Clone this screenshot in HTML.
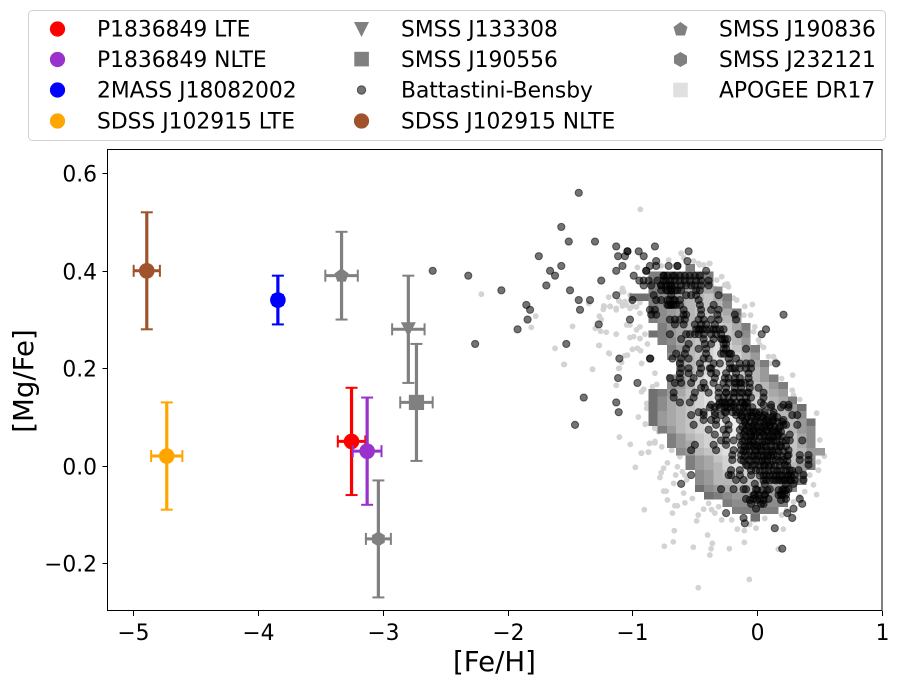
<!DOCTYPE html>
<html lang="en">
<head>
<meta charset="utf-8">
<title>[Mg/Fe] vs [Fe/H]</title>
<style>
html,body{margin:0;padding:0;background:#fff;}
svg{display:block;font-family:"DejaVu Sans",sans-serif;}
</style>
</head>
<body>
<svg id="chart" width="899" height="687" viewBox="0 0 899 687" xmlns="http://www.w3.org/2000/svg">
  <g font-size="21.8" fill="#000">
    <rect x="28.5" y="10.5" width="857" height="130" rx="4" fill="#fff" stroke="#d2d2d2"/>
    <g><circle cx="57.5" cy="29" r="7.6" fill="#ff0000"/><text x="97" y="36.5">P1836849 LTE</text></g>
    <g><circle cx="57.5" cy="59.5" r="7.6" fill="#9932cc"/><text x="97" y="67">P1836849 NLTE</text></g>
    <g><circle cx="57.5" cy="90" r="7.6" fill="#0000ff"/><text x="97" y="97.5">2MASS J18082002</text></g>
    <g><circle cx="57.5" cy="121" r="7.6" fill="#ffa500"/><text x="97" y="128.5">SDSS J102915 LTE</text></g>
    <g><polygon points="354,22 369,22 361.5,37" fill="#808080"/><text x="401" y="36.5">SMSS J133308</text></g>
    <g><rect x="354.3" y="51.8" width="14.6" height="14.6" fill="#808080"/><text x="401" y="67">SMSS J190556</text></g>
    <g><circle cx="361.5" cy="90" r="4.2" fill="#000" fill-opacity=".55" stroke="#000" stroke-opacity=".55"/><text x="401" y="97.5">Battastini-Bensby</text></g>
    <g><circle cx="361.5" cy="121" r="7.6" fill="#a0522d"/><text x="401" y="128.5">SDSS J102915 NLTE</text></g>
    <g><polygon points="680.5,22 687.5,27 685,35.5 676,35.5 673.5,27" fill="#808080"/><text x="719" y="36.5">SMSS J190836</text></g>
    <g><polygon points="680.5,52 687,55.7 687,63.3 680.5,67 674,63.3 674,55.7" fill="#808080"/><text x="719" y="67">SMSS J232121</text></g>
    <g><rect x="673.2" y="82.7" width="14.6" height="14.6" fill="#e0e0e0"/><text x="719" y="97.5">APOGEE DR17</text></g>
  </g>
  <g id="apogee-points"></g>
  <g id="heatmap" shape-rendering="crispEdges"></g>
  <g id="bensby-points"></g>
  <g id="stars"></g>
  <rect x="107.5" y="149.5" width="774.5" height="461" fill="none" stroke="#000" stroke-width="1"/>
  <g id="x-axis"></g>
  <g id="y-axis"></g>
  <text x="494.5" y="671" text-anchor="middle" font-size="27.6">[Fe/H]</text>
  <text transform="translate(33,381) rotate(-90)" text-anchor="middle" font-size="27.6">[Mg/Fe]</text>
</svg>
<script>
const xTicks = [-5,-4,-3,-2,-1,0,1];
const yTicks = [-0.2,0,0.2,0.4,0.6];
const yTickLabels = ["\u22120.2","0.0","0.2","0.4","0.6"];
const xTickLabels = ["\u22125","\u22124","\u22123","\u22122","\u22121","0","1"];

const starNames = ["sdss-lte","sdss-nlte","2mass","p1836849-lte","p1836849-nlte","smss-j133308","smss-j190556","smss-j190836","smss-j232121"];
const starFe = [-4.73,-4.89,-3.84,-3.25,-3.125,-2.795,-2.73,-3.33,-3.035];
const starMg = [0.02,0.40,0.34,0.05,0.03,0.28,0.13,0.39,-0.15];
const starFeErr = [0.125,0.105,0.04,0.11,0.115,0.13,0.13,0.13,0.10];
const starMgErr = [0.11,0.12,0.05,0.11,0.11,0.11,0.12,0.09,0.12];
const starColors = ["#ffa500","#a0522d","#0000ff","#ff0000","#9932cc","#808080","#808080","#808080","#808080"];
const starShapes = ["circle","circle","circle","circle","circle","triangle","square","pentagon","hexagon"];

const heatBinFe = 0.0745;
const heatBinMg = 0.01508;
const heatOriginFe = -0.873;
const heatTopMg = 0.4135;
const heatStart = [4,0,0,0,-2,0,0,0,1,0,1,2,2,3,3,2,2,0,0,0,0,0,1,2,2,3,4,4,5,5,5,6,8,9,11];
const heatLevels = [
[1],
[1,1,1,1,2,1,1],
[1,2,2,3,3,3,2],
[1,2,3,4,4,5,4,2],
[0,0,1,2,3,4,5,5,6,4,1],
[1,2,3,4,5,6,6,5,2],
[1,2,3,4,5,6,6,6,4,1],
[1,2,3,4,5,6,7,6,5,3],
[1,3,4,5,6,7,7,6,4,1],
[0,1,3,4,5,6,7,7,6,5,2],
[1,2,4,5,6,7,8,7,5,3],
[1,3,5,6,7,8,7,6,4,1],
[2,3,5,6,7,8,8,7,5,3],
[3,5,6,7,8,8,7,6,4,1],
[3,5,6,7,8,8,8,6,5,3],
[2,3,5,7,8,9,8,7,6,5,3,1],
[2,3,5,7,8,9,9,8,7,6,5,3,1],
[0,1,3,4,6,7,8,9,9,8,7,6,5,4,3],
[0,2,4,5,6,7,8,9,9,9,8,7,6,5,4,1],
[0,2,4,5,6,7,8,9,9,9,8,7,6,6,5,3,0],
[0,3,4,5,6,7,8,9,9,9,8,8,7,6,5,4,2],
[0,3,4,5,6,7,8,9,9,9,9,8,7,6,6,5,3,0],
[1,3,5,6,7,8,9,9,9,9,8,8,7,6,5,3,2],
[1,3,5,6,7,8,9,9,9,8,8,7,6,6,4,2],
[1,3,4,6,7,8,9,9,9,9,8,7,7,6,4,2],
[2,3,5,6,7,8,9,9,9,8,8,7,6,5,3,3],
[1,3,4,6,7,8,9,9,8,8,7,6,4,2],
[1,3,4,5,7,8,8,8,8,7,6,5,3,1],
[2,3,5,6,7,7,7,7,6,5,4,2],
[2,3,5,5,6,6,6,6,5,4,3,1],
[0,2,3,4,5,5,5,5,4,3,2],
[0,1,2,3,3,3,3,3,2],
[1,2,2,2,2,2,1],
[1,1,1,1,1],
[0]
];

const apogeeFe = [-2.21,-1.775,-1.81,-1.48,-1.62,-1.545,-1.32,-1.35,-1.19,-1.225,-1.177,-1.13,-1.233,-1.265,-1.25,-1.297,-1.255,-1.21,-1.13,-1.265,-1.185,-1.11,-0.937,
-1.55,-1.32,-1.27,-1.19,-1.13,-1.02,-0.99,-0.94,-0.88,-1.0,-0.96,-0.935,-1.04,-1.06,-1.087,-1.105,-1.13,-0.927,-0.82,-0.806,-0.84,-0.91,-0.927,-0.886,-0.886,-0.953,-0.897,-0.82,-1.105,-1.017,-0.865,-0.82,-0.93,-0.873,-0.977,-1.1,-1.047,-0.967,-0.94,-1.02,-1.087,-1.047,-1.02,-0.94,-0.967,-0.9,
-0.61,-0.59,-0.71,-0.51,-0.38,-0.47,-0.43,-0.77,-0.96,-0.325,-0.26,-0.23,-0.34,-1.08,-1.07,-1.02,-1.0,-1.11,-1.06,-1.08,-1.18,-1.23,-1.0,-0.94,-0.94,-1.13,
-0.46,-0.385,-0.285,-0.26,-0.24,-0.19,-0.165,-0.04,-0.1,-0.107,-0.053,-0.02,-0.03,0.01,0.02,0.05,0.09,0.13,0.14,0.17,0.1,0.283,0.195,0.28,0.29,0.34,0.25,
0.475,0.50,0.537,0.49,0.49,0.42,0.45,0.475,0.38,0.34,0.29,0.195,0.208,0.235,0.06,-0.02,-0.06,-0.01,-0.16,-0.104,-0.205,-0.285,-0.34,-0.31,-0.366,-0.43,-0.39,-0.486,-0.473,-0.68,-0.905,-0.66,-0.64,-0.58,-0.52,-0.72,-0.59,-0.75,-0.73,-0.67,-0.654,-0.78,-0.77,-0.75,-0.72,-0.64,-0.6,-0.58,-0.565,-0.927,-0.87,-0.765,-0.86,-0.82,-0.897,-0.82,-0.79,-0.62,-0.686,-0.665,-0.398,-0.745,-0.673,-0.513,-0.36,-0.37,-0.38,-0.224,-0.104,0.168,-0.473,-0.064];
const apogeeMg = [0.352,0.307,0.284,0.286,0.241,0.208,0.198,0.333,0.346,0.327,0.327,0.321,0.321,0.307,0.3,0.282,0.276,0.274,0.27,0.247,0.23,0.2,0.526,
0.208,0.198,0.247,0.231,0.32,0.263,0.265,0.261,0.25,0.239,0.241,0.236,0.227,0.226,0.212,0.2,0.165,0.21,0.19,0.167,0.162,0.157,0.152,0.128,0.118,0.1,0.085,0.08,0.059,0.044,0.046,0.05,0.026,0.028,-0.003,0.337,0.33,0.326,0.313,0.323,0.357,0.289,0.289,0.285,0.279,0.27,
0.436,0.427,0.422,0.42,0.415,0.415,0.412,0.41,0.407,0.381,0.371,0.367,0.364,0.364,0.357,0.35,0.34,0.339,0.337,0.328,0.327,0.328,0.327,0.335,0.343,0.323,
0.412,0.415,0.388,0.371,0.373,0.344,0.34,0.331,0.327,0.309,0.309,0.285,0.275,0.258,0.248,0.243,0.224,0.224,0.217,0.21,0.21,0.186,0.179,0.155,0.145,0.136,0.132,
0.108,0.053,0.02,0.008,-0.009,-0.019,-0.039,-0.059,-0.053,-0.063,-0.074,-0.101,-0.13,-0.091,-0.108,-0.111,-0.12,-0.128,-0.13,-0.133,-0.111,-0.111,-0.097,-0.084,-0.09,-0.089,-0.077,-0.113,-0.101,-0.097,-0.09,-0.082,-0.082,-0.076,-0.067,-0.07,-0.056,-0.052,-0.052,-0.036,-0.019,-0.024,-0.014,-0.005,0.006,-0.002,-0.012,-0.019,-0.029,0.026,0.028,0.039,0.046,0.047,0.086,0.077,0.07,0.019,0.032,-0.133,-0.142,-0.165,-0.156,-0.167,-0.159,-0.17,-0.183,-0.17,-0.157,-0.171,-0.25,-0.233];

const bensbyGroups = [
[0.56,[-1.43]],
[0.49,[-1.57]],
[0.46,[-1.51,-1.30]],
[0.45,[-1.13,-0.82]],
[0.44,[-1.04,-1.04,-0.95,-0.55]],
[0.43,[-1.75,-1.115,-1.06,-0.91]],
[0.42,[-0.81,-0.56]],
[0.41,[-1.57,-1.08,-0.86,-0.81,-0.71,-0.64,-0.64]],
[0.40,[-2.6,-1.66,-1.13,-0.89,-0.89,-0.41]],
[0.39,[-2.315,-1.62,-0.99,-0.75,-0.75,-0.62,-0.54]],
[0.38,[-1.25,-0.945,-0.91,-0.87,-0.75,-0.70,-0.62,-0.54,-0.45,-0.39]],
[0.37,[-1.69,-0.91,-0.85,-0.77,-0.77,-0.69,-0.61,-0.50,-0.45,-0.39]],
[0.36,[-2.05,-1.50,-0.77,-0.69,-0.69,-0.61,-0.49,-0.46]],
[0.35,[-1.13,-0.83,-0.69,-0.57,-0.53,-0.49,-0.31]],
[0.34,[-1.43,-1.34,-1.0,-0.81,-0.77,-0.67,-0.62,-0.47]],
[0.33,[-1.85,-0.71,-0.69,-0.65,-0.46,-0.35]],
[0.32,[-1.82,-1.42,-0.86,-0.82,-0.59,-0.45,-0.37,-0.31]],
[0.31,[-0.85,-0.81,-0.59,-0.57,-0.45,-0.32,-0.18,0.21]],
[0.30,[-1.84,-1.02,-0.70,-0.66,-0.62,-0.58,-0.47,-0.43,-0.37,-0.31,-0.17]],
[0.29,[-1.27,-0.66,-0.59,-0.50,-0.45,-0.41,-0.34]],
[0.28,[-1.92,-0.49,-0.46,-0.41,-0.35,-0.30,-0.27,0.07]],
[0.27,[-0.70,-0.57,-0.54,-0.50,-0.47,-0.43,-0.37,-0.33,-0.29,-0.15,0.035]],
[0.26,[-0.61,-0.43,-0.29,-0.26]],
[0.25,[-2.26,-1.53,-0.55,-0.42,-0.37,-0.27,-0.25]],
[0.24,[-0.57,-0.47,-0.41,-0.27,-0.25,-0.09]],
[0.23,[-0.65,-0.58,-0.41,-0.29,-0.23,-0.21]],
[0.22,[-1.105,-0.857,-0.86,-0.68,-0.61,-0.55,-0.43,-0.39,-0.23,-0.17]],
[0.21,[-0.62,-0.46,-0.35,-0.30,-0.22,-0.14,-0.09,-0.05,0.15]],
[0.20,[-0.61,-0.55,-0.45,-0.37,-0.22,-0.14,-0.09,-0.05]],
[0.19,[-0.62,-0.55,-0.46,-0.37,-0.33,-0.25,-0.17,-0.07]],
[0.18,[-1.115,-0.70,-0.62,-0.51,-0.34,-0.26,-0.23,-0.18,-0.14,-0.07]],
[0.17,[-0.96,-0.66,-0.61,-0.53,-0.43,-0.35,-0.27,-0.23,-0.18,-0.14,-0.06]],
[0.16,[-0.45,-0.42,-0.31,-0.25,-0.18,-0.13,-0.06,0.01]],
[0.15,[-0.67,-0.50,-0.39,-0.31,-0.25,-0.19,-0.14,-0.07,0.05]],
[0.14,[-1.39,-0.67,-0.51,-0.31,-0.27,-0.23,-0.19,-0.14,-0.09,-0.05,0.05]],
[0.13,[-1.13,-0.62,-0.54,-0.30,-0.26,-0.21,-0.13,-0.09,0.03]],
[0.12,[-0.38,-0.34,-0.26,-0.21,-0.11,0.11,0.19,0.25]],
[0.125,[-0.37,-0.31,-0.25,-0.19,-0.10,0.05,0.11,0.21,0.25]],
[0.11,[-1.11,-0.47,-0.43,-0.34,-0.25,-0.17,-0.11,-0.05,-0.01,0.06,0.13]],
[0.104,[-0.53,-0.43,-0.34,-0.29,-0.17,-0.13,-0.05,0.01,0.06,0.13,0.28,0.32]],
[0.094,[-0.43,-0.37,-0.33,-0.25,-0.14,-0.09,-0.01,0.07,0.13,0.21]],
[0.084,[-1.46,-0.51,-0.33,-0.23,-0.09,-0.03,0.06,0.10,0.21,0.23,0.32]],
[0.074,[-0.39,-0.27,-0.23,-0.14,-0.09,-0.03,0.02,0.07,0.13,0.17]],
[0.064,[-0.34,-0.25,-0.11,-0.05,-0.01,0.05,0.11,0.17,0.26]],
[0.052,[-0.29,-0.25,-0.19,-0.10,-0.05,0.09,0.13,0.23,0.26,0.36]],
[0.043,[-0.50,-0.35,-0.25,-0.13,-0.06,-0.01,0.05,0.18]],
[0.032,[-0.53,-0.33,-0.19,-0.13,-0.09,-0.02,0.03,0.10,0.15,0.25]],
[0.022,[-0.20,-0.13,-0.07,-0.02,0.03,0.09,0.13,0.25,0.34,0.41]],
[0.012,[-0.20,-0.13,-0.07,-0.01,0.06,0.15,0.21,0.34,0.41]],
[0.002,[-0.09,-0.02,0.06,0.11,0.22,0.41]],
[-0.009,[-0.21,-0.14,-0.01,0.13,0.26,0.33]],
[-0.019,[-0.53,-0.23,-0.21,-0.14,-0.05,0.07,0.13,0.18,0.25,0.30,0.37]],
[-0.029,[-0.17,-0.11,0.07,0.13,0.17,0.21,0.26,0.30,0.37]],
[-0.037,[-0.61,-0.02,0.06,0.23,0.29]],
[-0.048,[-0.29,-0.19,-0.11,-0.09,-0.01,0.10,0.21,0.25]],
[-0.059,[-0.02,0.06,0.19,0.23]],
[-0.068,[-0.09,-0.03,0.02,0.09,0.23,0.34]],
[-0.078,[-0.05,0.03,0.05,0.36]],
[-0.088,[-0.01,0.29]],
[-0.097,[-0.25,0.24]],
[-0.107,[-0.11,0.28]],
[-0.118,[-0.10]],
[-0.128,[0.14]],
[-0.17,[0.20]],
[0.39,[-0.72,-0.68,-0.66,-0.58,-0.50,-0.46]],
[0.38,[-0.80,-0.73,-0.66,-0.58,-0.49]],
[0.37,[-0.73,-0.70,-0.66,-0.57,-0.53]],
[0.36,[-0.73,-0.72,-0.66,-0.64]],
[0.34,[-0.72,-0.70,-0.66]],
[0.33,[-0.72,-0.69,-0.67,-0.62]],
[0.28,[-0.47,-0.44,-0.38,-0.33]],
[0.26,[-0.35,-0.28,-0.24]],
[0.23,[-0.27,-0.22]],
[0.20,[-0.38,-0.20,-0.18]],
[0.17,[-0.17,-0.13,-0.10]],
[0.15,[-0.25,-0.18,-0.12,-0.08]],
[0.13,[-0.28,-0.22,-0.17,-0.12,-0.08]],
[0.12,[-0.30,-0.24,-0.18,-0.14,-0.08,-0.04]],
[0.11,[-0.26,-0.20,-0.14,-0.08,-0.03,0.02]],
[0.10,[-0.12,-0.08,-0.04,0,0.04,0.08,0.12,0.16]],
[0.09,[-0.10,-0.06,-0.02,0.02,0.05,0.09,0.12,0.16,0.20]],
[0.08,[-0.12,-0.07,-0.04,0,0.03,0.07,0.10,0.14,0.18]],
[0.07,[-0.10,-0.06,-0.03,0.01,0.04,0.08,0.12,0.15,0.19]],
[0.06,[-0.14,-0.09,-0.05,-0.02,0.02,0.06,0.09,0.13,0.16,0.20]],
[0.05,[-0.12,-0.07,-0.03,0.01,0.04,0.07,0.11,0.15,0.20]],
[0.04,[-0.10,-0.07,-0.03,0,0.03,0.07,0.11,0.15,0.19,0.23]],
[0.03,[-0.11,-0.06,-0.01,0.04,0.08,0.12,0.17,0.21]],
[0.02,[-0.10,-0.04,0,0.05,0.08,0.11,0.16,0.20,0.24]],
[0.01,[-0.11,-0.05,0.01,0.04,0.08,0.12,0.18,0.24]],
[0,[-0.08,-0.04,0.02,0.05,0.09,0.14,0.18,0.24]],
[-0.01,[-0.05,0.02,0.06,0.09,0.16,0.19,0.23,0.28]],
[-0.02,[0.02,0.05,0.10,0.15,0.20,0.24,0.27]],
[-0.03,[0.05,0.10,0.15,0.19,0.23,0.27]],
[-0.05,[0,0.04,0.08,0.17,0.20,0.23]],
[-0.06,[-0.03,0.01,0.06,0.17,0.20]],
[-0.07,[-0.06,0,0.05,0.19]]
];

const SVG_NS = "http://www.w3.org/2000/svg";
const xScale = fe => 757.3 + fe * 124.85;
const yScale = mg => 465.8 - mg * 487.5;
const heatGray = level => { const g = 112 + level * 14; return "rgb(" + g + "," + g + "," + g + ")"; };

function make(tag, attrs, parent) {
  const el = document.createElementNS(SVG_NS, tag);
  for (const k in attrs) el.setAttribute(k, attrs[k]);
  parent.appendChild(el);
  return el;
}

const apogeeLayer = document.getElementById("apogee-points");
apogeeFe.forEach((fe, i) => {
  const el = make("circle", {cx: xScale(fe), cy: yScale(apogeeMg[i]), r: 2.9, fill: "#d3d3d3"}, apogeeLayer);
  
  
});

const heatLayer = document.getElementById("heatmap");
heatLevels.forEach((row, r) => {
  row.forEach((level, c) => {
    const fe0 = heatOriginFe + (heatStart[r] + c) * heatBinFe;
    const mg0 = heatTopMg - r * heatBinMg;
    const x0 = xScale(fe0), x1 = xScale(fe0 + heatBinFe);
    const y0 = yScale(mg0), y1 = yScale(mg0 - heatBinMg);
    const el = make("rect", {x: x0, y: y0, width: x1 - x0, height: y1 - y0, fill: heatGray(level)}, heatLayer);
    
    
  });
});

const bensbyLayer = document.getElementById("bensby-points");
bensbyGroups.forEach(group => {
  group[1].forEach(fe => {
    const el = make("circle", {cx: xScale(fe), cy: yScale(group[0]), r: 3.6, fill: "#000", "fill-opacity": 0.55, stroke: "#000", "stroke-opacity": 0.55, "stroke-width": 1}, bensbyLayer);
    
    
  });
});

const starLayer = document.getElementById("stars");
starFe.forEach((fe, i) => {
  const g = make("g", {}, starLayer);
  
  
  const cx = xScale(fe), cy = yScale(starMg[i]);
  const col = starColors[i];
  const yTop = yScale(starMg[i] + starMgErr[i]), yBot = yScale(starMg[i] - starMgErr[i]);
  make("line", {x1: cx, x2: cx, y1: yTop, y2: yBot, stroke: col, "stroke-width": 3.2}, g);
  [yTop, yBot].forEach(y => make("line", {x1: cx - 6, x2: cx + 6, y1: y, y2: y, stroke: col, "stroke-width": 2}, g));
  const xL = xScale(fe - starFeErr[i]), xR = xScale(fe + starFeErr[i]);
  make("line", {x1: xL, x2: xR, y1: cy, y2: cy, stroke: col, "stroke-width": 3}, g);
  [xL, xR].forEach(x => make("line", {x1: x, x2: x, y1: cy - 6, y2: cy + 6, stroke: col, "stroke-width": 2}, g));
  const shape = starShapes[i];
  if (shape === "circle") make("circle", {cx: cx, cy: cy, r: 7.8, fill: col}, g);
  if (shape === "square") make("rect", {x: cx - 7.6, y: cy - 7.6, width: 15.2, height: 15.2, fill: col}, g);
  if (shape === "triangle") make("polygon", {points: (cx - 7.5) + "," + (cy - 7) + " " + (cx + 7.5) + "," + (cy - 7) + " " + cx + "," + (cy + 7.5), fill: col}, g);
  if (shape === "pentagon") make("polygon", {points: cx + "," + (cy - 7.4) + " " + (cx + 7) + "," + (cy - 2.3) + " " + (cx + 4.3) + "," + (cy + 6) + " " + (cx - 4.3) + "," + (cy + 6) + " " + (cx - 7) + "," + (cy - 2.3), fill: col}, g);
  if (shape === "hexagon") make("polygon", {points: cx + "," + (cy - 7.4) + " " + (cx + 6.4) + "," + (cy - 3.7) + " " + (cx + 6.4) + "," + (cy + 3.7) + " " + cx + "," + (cy + 7.4) + " " + (cx - 6.4) + "," + (cy + 3.7) + " " + (cx - 6.4) + "," + (cy - 3.7), fill: col}, g);
});

const xAxis = document.getElementById("x-axis");
xTicks.forEach((t, i) => {
  const x = Math.round(xScale(t)) + 0.5;
  const tick = make("line", {x1: x, x2: x, y1: 611, y2: 616, stroke: "#000", "stroke-width": 1}, xAxis);
  
  
  const label = make("text", {x: x, y: 640, "text-anchor": "middle", "font-size": 21.8}, xAxis);
  
  
  label.textContent = xTickLabels[i];
});

const yAxis = document.getElementById("y-axis");
yTicks.forEach((t, i) => {
  const y = Math.round(yScale(t)) + 0.5;
  const tick = make("line", {x1: 102.5, x2: 107.5, y1: y, y2: y, stroke: "#000", "stroke-width": 1}, yAxis);
  
  
  const label = make("text", {x: 97, y: y + 8, "text-anchor": "end", "font-size": 21.8}, yAxis);
  
  
  label.textContent = yTickLabels[i];
});
</script>
</body>
</html>
